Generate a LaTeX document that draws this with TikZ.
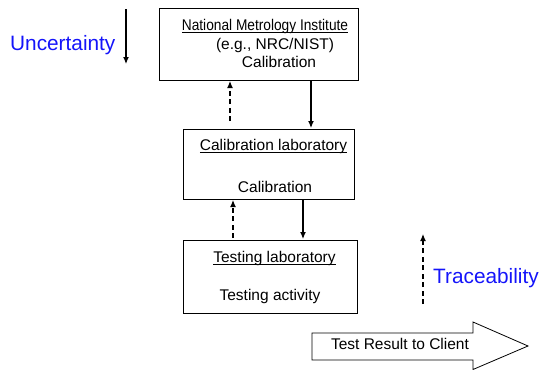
\documentclass[tikz,border=0pt]{standalone}
\usepackage{fontspec}
\setmainfont{Liberation Sans}
\usetikzlibrary{arrows.meta,shapes.arrows}
\definecolor{lblblue}{RGB}{20,20,250}
\newcommand\myul[1]{\setbox0\hbox{#1}\rlap{\rule[-2.4pt]{\wd0}{1.3pt}}\box0}
\begin{document}
\begin{tikzpicture}[x=1pt,y=-1pt,
  box/.style={draw,line width=1pt,inner sep=0pt,anchor=north west},
  txt/.style={font=\fontsize{15.5}{17}\selectfont,inner sep=0pt,anchor=base},
  lbl/.style={font=\fontsize{20.8}{23}\selectfont,text=lblblue,inner sep=0pt,anchor=base west},
  sarr/.style={line width=1.2pt,-{Latex[length=7pt,width=6pt]}},
  darr/.style={line width=1.2pt,dash pattern=on 5pt off 3.5pt,-{Latex[length=7pt,width=6pt]}}]
\useasboundingbox (0,0) rectangle (542,370);
% boxes
\node[box,minimum width=199pt,minimum height=72pt] (nmi) at (159,8) {};
\node[box,minimum width=171pt,minimum height=70pt] (cal) at (183,129) {};
\node[box,minimum width=174pt,minimum height=73pt] (test) at (183,240) {};
% texts
\node[txt] (t1a) at (265,30.5) {\myul{\scalebox{0.885}[1]{National Metrology Institute}}};
\node[txt] (t1b) at (275,49) {(e.g., NRC/NIST)};
\node[txt] (t1c) at (279,67) {Calibration};
\node[txt] (t2a) at (273.5,150.5) {\myul{Calibration laboratory}};
\node[txt] (t2b) at (275,192.5) {Calibration};
\node[txt] (t3a) at (274.5,262.5) {\myul{Testing laboratory}};
\node[txt] (t3b) at (270,300) {Testing activity};
% connectors
\coordinate (d1s) at (230,121);
\coordinate (d1e) at (230,81);
\draw[darr] (d1s) -- (d1e);
\coordinate (s1s) at (311,81);
\coordinate (s1e) at (311,128);
\draw[sarr] (s1s) -- (s1e);
\coordinate (d2s) at (233,238);
\coordinate (d2e) at (233,200);
\draw[darr] (d2s) -- (d2e);
\coordinate (s2s) at (303,200);
\coordinate (s2e) at (303,239);
\draw[sarr] (s2s) -- (s2e);
% side labels
\node[lbl] (unc) at (10,50) {Uncertainty};
\coordinate (ua) at (126,9);
\coordinate (ub) at (126,64);
\draw[sarr] (ua) -- (ub);
\node[lbl] (tra) at (433,283) {Traceability};
\coordinate (ta) at (423,304);
\coordinate (tb) at (423,234);
\draw[darr] (ta) -- (tb);
% big arrow
\draw[line width=0.8pt] (312,333) -- (473,333) -- (473,322) -- (528,346) -- (473,369.5) -- (473,360) -- (312,360) -- cycle;
\node[txt] (res) at (400,349) {Test Result to Client};
\end{tikzpicture}
\end{document}
